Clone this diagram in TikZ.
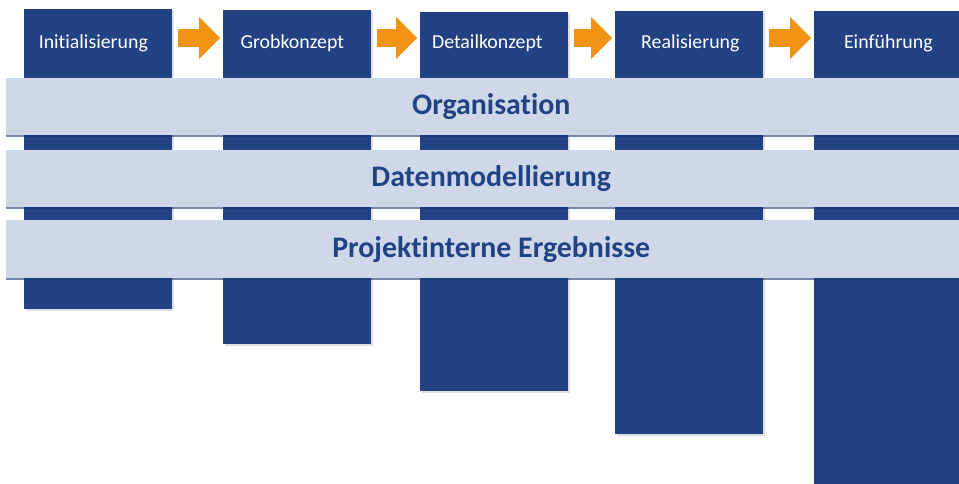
\documentclass[tikz,border=0pt]{standalone}
\usepackage{fontspec}
\setmainfont{Carlito}[Ligatures=NoCommon]
\usetikzlibrary{positioning,shadows,arrows.meta}
\definecolor{dunkelblau}{RGB}{34,66,132}
\definecolor{hellblau}{RGB}{207,216,233}
\definecolor{pfeilorange}{RGB}{240,146,20}
\tikzset{
	phase/.style={rectangle, fill=dunkelblau, anchor=north west, minimum width=2.96cm, inner sep=0pt, drop shadow={opacity=0.25, shadow xshift=0.04cm, shadow yshift=-0.04cm}},
	phasetext/.style={text=white, font=\fontsize{11.3}{13}\selectfont},
	band/.style={rectangle, fill=hellblau, anchor=north west, minimum width=19.4cm, minimum height=1.14cm, inner sep=0pt, text=dunkelblau, font=\fontsize{17}{20}\selectfont\bfseries, drop shadow={fill=dunkelblau!80!black, opacity=0.6, shadow xshift=0cm, shadow yshift=-0.04cm}},
	pfeil/.style={draw=pfeilorange, line width=0.38cm, shorten <=0.1cm, shorten >=0.06cm, -{Triangle[width=0.84cm, length=0.42cm, line width=0pt]}}
}
\begin{document}
	\begin{tikzpicture}[x=0.02cm, y=-0.02cm]
		\useasboundingbox (0,0) rectangle (959,483);
		\clip (0,0) rectangle (959,483);
		% Phasen
		\node[phase, minimum height=6cm] (init) at (24,9) {};
		\node[phase, minimum height=6.68cm] (grob) at (223,10) {};
		\node[phase, minimum height=7.58cm] (detail) at (420,12) {};
		\node[phase, minimum height=8.46cm] (real) at (615,11) {};
		\node[phase, minimum height=9.6cm] (einf) at (814,11) {};
		\node[phasetext] (initT) at ([xshift=-0.1cm, yshift=-0.68cm]init.north) {Initialisierung};
		\node[phasetext] (grobT) at ([xshift=-0.1cm, yshift=-0.66cm]grob.north) {Grobkonzept};
		\node[phasetext] (detailT) at ([xshift=-0.14cm, yshift=-0.62cm]detail.north) {Detailkonzept};
		\node[phasetext] (realT) at ([xshift=0.02cm, yshift=-0.64cm]real.north) {Realisierung};
		\node[phasetext] (einfT) at ([yshift=-0.64cm]einf.north) {Einführung};
		% Querschnittsthemen
		\node[band] (orga) at (6,78) {Organisation};
		\node[band] (daten) at (6,150) {Datenmodellierung};
		\node[band, minimum height=1.16cm] (ergeb) at (6,220) {Projektinterne Ergebnisse};
		% Pfeile
		\coordinate (pfeilhoehe) at (0,38);
		\draw[pfeil] (init.east |- pfeilhoehe) -- (grob.west |- pfeilhoehe);
		\draw[pfeil] (grob.east |- pfeilhoehe) -- (detail.west |- pfeilhoehe);
		\draw[pfeil] (detail.east |- pfeilhoehe) -- (real.west |- pfeilhoehe);
		\draw[pfeil] (real.east |- pfeilhoehe) -- (einf.west |- pfeilhoehe);
	\end{tikzpicture}
\end{document}
